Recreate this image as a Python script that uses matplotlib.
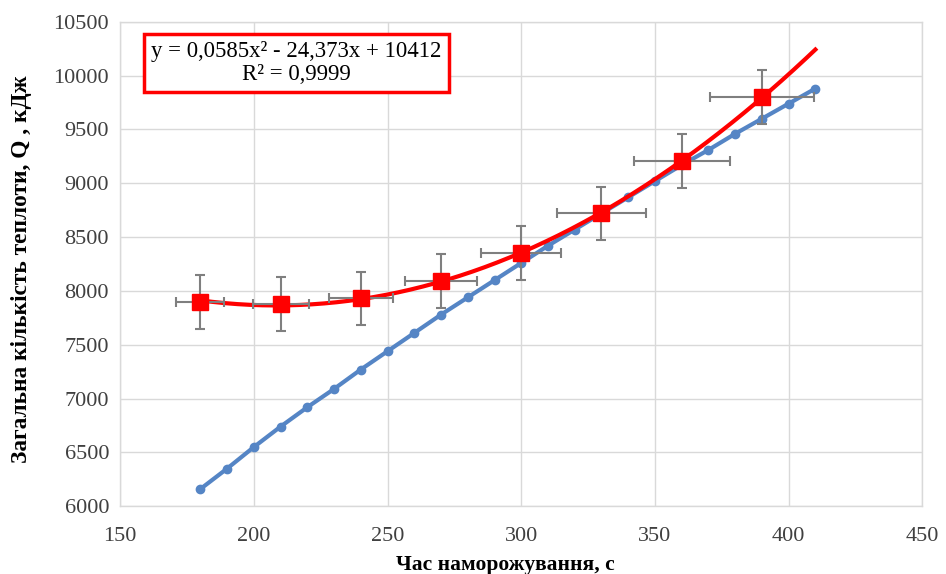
import numpy as np
import matplotlib
matplotlib.use("Agg")
import matplotlib.pyplot as plt

plt.rcParams['font.family'] = ['Liberation Serif', 'DejaVu Serif']

# Blue series (calculated)
x_blue = [180, 190, 200, 210, 220, 230, 240, 250, 260, 270, 280, 290,
          300, 310, 320, 330, 340, 350, 360, 370, 380, 390, 400, 410]
y_blue = [6160, 6350, 6550, 6740, 6920, 7090, 7270, 7440, 7610, 7780, 7940, 8100,
          8260, 8420, 8570, 8720, 8870, 9020, 9170, 9310, 9460, 9600, 9740, 9880]

# Red series (experimental) with error bars
x_red = [180, 210, 240, 270, 300, 330, 360, 390]
y_red = [7900, 7880, 7930, 8090, 8350, 8720, 9210, 9800]
x_err = [9, 10.5, 12, 13.5, 15, 16.5, 18, 19.5]
y_err = [250, 250, 250, 250, 250, 250, 250, 250]

x_ticks = [150, 200, 250, 300, 350, 400, 450]
y_ticks = [6000, 6500, 7000, 7500, 8000, 8500, 9000, 9500, 10000, 10500]

eq_text = "y = 0,0585x² - 24,373x + 10412\nR² = 0,9999"
x_label = "Час наморожування, с"
y_label = "Загальна кількість теплоти, Q , кДж"

fig = plt.figure(figsize=(9.46, 5.74), dpi=100)
ax = fig.add_axes([0.127, 0.118, 0.848, 0.844])

ax.grid(True, color='#d9d9d9', linewidth=1.0, zorder=0)
ax.set_axisbelow(True)

ax.plot(x_blue, y_blue, color='#5585c5', linewidth=3, marker='o', markersize=6,
        zorder=3)

# trend line (polynomial order 2)
coef = np.polyfit(x_red, y_red, 2)
xt = np.linspace(min(x_red), max(x_blue), 200)
ax.plot(xt, np.polyval(coef, xt), color='#ff0000', linewidth=3, zorder=4)

ax.errorbar(x_red, y_red, xerr=x_err, yerr=y_err, fmt='none', ecolor='#7f7f7f',
            elinewidth=1.5, capsize=3.5, capthick=1.5, zorder=5)
ax.plot(x_red, y_red, linestyle='none', marker='s', markersize=11,
        color='#ff0000', zorder=6)

ax.set_xlim(150, 450)
ax.set_ylim(6000, 10500)
ax.set_xticks(x_ticks)
ax.set_yticks(y_ticks)
ax.tick_params(axis='both', length=0, labelsize=16, colors='#404040', pad=8)
ax.tick_params(axis='x', pad=15)
for s in ax.spines.values():
    s.set_color('#d9d9d9')
    s.set_linewidth(1.0)

ax.set_xlabel(x_label, fontsize=15.5, fontweight='bold')
ax.xaxis.set_label_coords(0.48, -0.1)
ax.set_ylabel(y_label, fontsize=16.8, fontweight='bold')
ax.yaxis.set_label_coords(-0.11, 0.49)

ax.text(0.22, 0.915, eq_text, transform=ax.transAxes, fontsize=16.4,
        ha='center', va='center', multialignment='center', linespacing=1.12,
        bbox=dict(boxstyle='square,pad=0.32', facecolor='white',
                  edgecolor='#ff0000', linewidth=2.5), zorder=10)

fig.savefig('out.png', dpi=100)
